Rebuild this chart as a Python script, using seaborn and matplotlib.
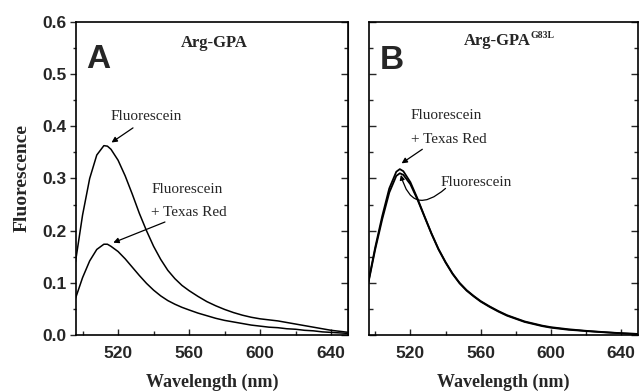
import numpy as np
import pandas as pd
import matplotlib
matplotlib.use("Agg")
import matplotlib.pyplot as plt
from matplotlib.ticker import MultipleLocator
import seaborn as sns

# ---------------- data ----------------
wavelength = [496, 500, 504, 508, 512, 514, 516, 520, 524, 528, 532, 536, 540, 544,
              548, 552, 556, 560, 565, 570, 575, 580, 585, 590, 595, 600, 605, 610,
              615, 620, 625, 630, 635, 640, 645, 650]

a_fluorescein = [0.140, 0.230, 0.300, 0.345, 0.363, 0.362, 0.356, 0.335, 0.305, 0.270,
                 0.233, 0.200, 0.170, 0.145, 0.124, 0.108, 0.095, 0.085, 0.074, 0.064,
                 0.056, 0.049, 0.043, 0.038, 0.034, 0.031, 0.029, 0.027, 0.024, 0.021,
                 0.018, 0.015, 0.012, 0.009, 0.007, 0.005]

a_fl_texasred = [0.070, 0.110, 0.142, 0.164, 0.174, 0.174, 0.170, 0.160, 0.146, 0.130,
                 0.114, 0.099, 0.086, 0.075, 0.066, 0.059, 0.053, 0.048, 0.042, 0.037,
                 0.032, 0.028, 0.025, 0.022, 0.019, 0.017, 0.015, 0.014, 0.012, 0.011,
                 0.009, 0.008, 0.006, 0.005, 0.004, 0.003]

b_fl_texasred = [0.100, 0.168, 0.228, 0.281, 0.313, 0.318, 0.314, 0.293, 0.262, 0.228,
                 0.195, 0.165, 0.140, 0.118, 0.100, 0.086, 0.075, 0.065, 0.055, 0.046,
                 0.038, 0.032, 0.026, 0.022, 0.018, 0.015, 0.013, 0.011, 0.0095, 0.008,
                 0.0068, 0.0056, 0.0045, 0.0035, 0.0026, 0.002]

b_fluorescein = [0.098, 0.164, 0.222, 0.273, 0.305, 0.310, 0.307, 0.289, 0.260, 0.227,
                 0.194, 0.164, 0.139, 0.117, 0.099, 0.085, 0.074, 0.064, 0.054, 0.045,
                 0.037, 0.031, 0.025, 0.021, 0.017, 0.014, 0.012, 0.010, 0.0088, 0.0075,
                 0.0063, 0.0052, 0.0042, 0.0033, 0.0025, 0.0019]

x_ticks = [520, 560, 600, 640]
y_ticks = [0.0, 0.1, 0.2, 0.3, 0.4, 0.5, 0.6]

df_a = pd.DataFrame({"Wavelength": wavelength * 2,
                     "Fluorescence": a_fluorescein + a_fl_texasred,
                     "Sample": ["Fluorescein"] * len(wavelength) + ["Fluorescein + Texas Red"] * len(wavelength)})
df_b = pd.DataFrame({"Wavelength": wavelength * 2,
                     "Fluorescence": b_fl_texasred + b_fluorescein,
                     "Sample": ["Fluorescein + Texas Red"] * len(wavelength) + ["Fluorescein"] * len(wavelength)})

# ---------------- style ----------------
sns.set_style("ticks")
plt.rcParams["font.family"] = ["Liberation Sans", "DejaVu Sans"]
serif = ["Liberation Serif", "DejaVu Serif"]
sans = ["Liberation Sans", "DejaVu Sans"]

fig = plt.figure(figsize=(6.39, 3.92), dpi=100)
axA = fig.add_axes([76 / 639, 57 / 392, (348 - 76) / 639, (335 - 22) / 392])
axB = fig.add_axes([368.7 / 639, 57 / 392, (638 - 368.7) / 639, (335 - 22) / 392])

for ax, df in ((axA, df_a), (axB, df_b)):
    sns.lineplot(data=df, x="Wavelength", y="Fluorescence", units="Sample",
                 estimator=None, color="black", lw=1.1 if ax is axA else 1.3,
                 ax=ax, legend=False)
    ax.set_xlim(496.3, 649.5)
    ax.set_ylim(0, 0.6)
    ax.set_xticks(x_ticks)
    ax.xaxis.set_minor_locator(MultipleLocator(20))
    ax.set_yticks(y_ticks)
    ax.yaxis.set_minor_locator(MultipleLocator(0.05))
    for s in ax.spines.values():
        s.set_visible(True)
        s.set_linewidth(1.2)
        s.set_color("black")
    ax.set_xlabel("Wavelength (nm)", family=serif, fontweight="bold", fontsize=13, labelpad=9)
    ax.tick_params(axis="x", which="major", direction="in", length=4, width=1.0,
                   pad=8, labelsize=12.5, top=False)
    ax.tick_params(axis="x", which="minor", direction="in", length=3, width=1.0, top=False)
    for lbl in ax.get_xticklabels():
        lbl.set_fontweight("bold")

# Panel A y axis
axA.set_ylabel("Fluorescence", family=serif, fontweight="bold", fontsize=14, labelpad=8)
axA.set_yticklabels([f"{v:.1f}" for v in y_ticks])
axA.tick_params(axis="y", which="major", direction="out", length=4, width=1.0,
                pad=3, labelsize=12.5, left=True, right=False)
axA.tick_params(axis="y", which="minor", direction="out", length=2.5, width=1.0,
                left=True, right=False)
for lbl in axA.get_yticklabels():
    lbl.set_fontweight("bold")
# inward ticks on right spine of A
axA_r = axA.secondary_yaxis("right")
axA_r.set_yticks(y_ticks)
axA_r.yaxis.set_minor_locator(MultipleLocator(0.05))
axA_r.tick_params(which="major", direction="in", length=5, width=1.0, labelright=False)
axA_r.tick_params(which="minor", direction="in", length=3, width=1.0, labelright=False)

# Panel B y axis
axB.set_ylabel("")
axB.tick_params(axis="y", which="major", direction="in", length=5, width=1.0,
                left=True, right=True, labelleft=False)
axB.tick_params(axis="y", which="minor", direction="in", length=3, width=1.0,
                left=True, right=True, labelleft=False)

# ---------------- text ----------------
axA.text(0.08, 0.88, "A", transform=axA.transAxes, fontsize=24, fontweight="bold",
         family=sans, ha="center", va="center")
axB.text(0.085, 0.877, "B", transform=axB.transAxes, fontsize=24, fontweight="bold",
         family=sans, ha="center", va="center")

axA.text(0.507, 0.933, "Arg-GPA", transform=axA.transAxes, fontsize=12,
         fontweight="bold", family=serif, ha="center", va="center")
tB = axB.text(0.478, 0.94, "Arg-GPA", transform=axB.transAxes, fontsize=12,
              fontweight="bold", family=serif, ha="center", va="center")
axB.annotate("G83L", xy=(1.0, 1.08), xycoords=tB, fontsize=7, fontweight="bold",
             family=serif, ha="left", va="top")

afs = 11
arrow = dict(arrowstyle="-|>", color="black", lw=0.9, mutation_scale=8, shrinkA=0, shrinkB=0)

# Panel A annotations
axA.text(535.7, 0.418, "Fluorescein", fontsize=afs, family=serif, ha="center", va="center")
axA.annotate("", xy=(516.3, 0.369), xytext=(528.4, 0.397), arrowprops=arrow)
axA.text(538.6, 0.278, "Fluorescein", fontsize=afs, family=serif, ha="left", va="center")
axA.text(538.6, 0.234, "+ Texas Red", fontsize=afs, family=serif, ha="left", va="center")
axA.annotate("", xy=(517.3, 0.177), xytext=(546.4, 0.2166), arrowprops=arrow)

# Panel B annotations
axB.text(520.1, 0.42, "Fluorescein", fontsize=afs, family=serif, ha="left", va="center")
axB.text(520.1, 0.374, "+ Texas Red", fontsize=afs, family=serif, ha="left", va="center")
axB.annotate("", xy=(515, 0.329), xytext=(526.8, 0.356), arrowprops=arrow)
axB.text(537, 0.293, "Fluorescein", fontsize=afs, family=serif, ha="left", va="center")
axB.annotate("", xy=(514.6, 0.307), xytext=(540, 0.281),
             arrowprops=dict(arrowstyle="-|>", color="black", lw=0.9, mutation_scale=7,
                             shrinkA=0, shrinkB=0, connectionstyle="arc3,rad=-0.8"))

fig.savefig("out.png", dpi=100)
